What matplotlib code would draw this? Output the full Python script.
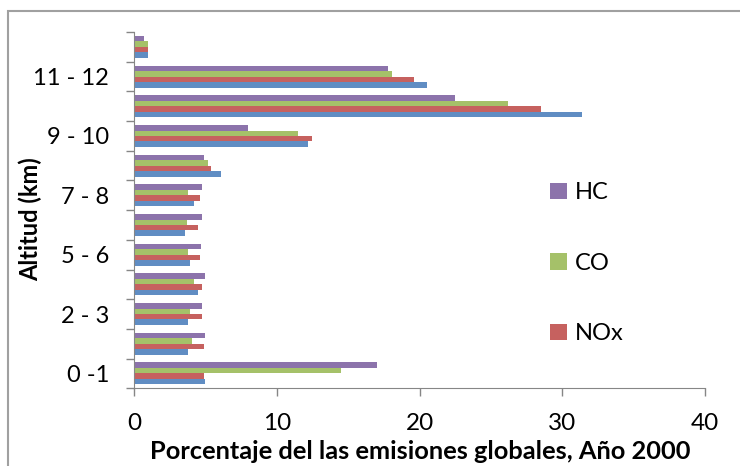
import matplotlib
matplotlib.use('Agg')
import matplotlib.pyplot as plt
from matplotlib.patches import Rectangle
import numpy as np

plt.rcParams['font.family'] = ['Lato', 'DejaVu Sans']

# altitude bands (bottom to top), only every other one gets a label in the chart
altitudes = ['0 -1', '1 - 2', '2 - 3', '3 - 4', '5 - 6', '6 - 7',
             '7 - 8', '8 - 9', '9 - 10', '10 - 11', '11 - 12', '12 - 13']

# percentage of global emissions, year 2000
fuel = [5.0, 3.8, 3.8, 4.5, 3.9, 3.6, 4.2, 6.1, 12.2, 31.4, 20.5, 1.0]
nox  = [4.9, 4.9, 4.8, 4.8, 4.6, 4.5, 4.6, 5.4, 12.5, 28.5, 19.6, 1.0]
co   = [14.5, 4.1, 3.9, 4.2, 3.8, 3.7, 3.8, 5.2, 11.5, 26.2, 18.1, 1.0]
hc   = [17.0, 5.0, 4.8, 5.0, 4.7, 4.8, 4.8, 4.9, 8.0, 22.5, 17.8, 0.7]

fig = plt.figure(figsize=(7.4, 4.66), dpi=100)
ax = fig.add_axes([0.181, 0.167, 0.772, 0.764])

# chart frame (only top and left edges are visible in the crop)
fig.add_artist(Rectangle((8/740, -0.1), 1.2, 1 - 11/466 + 0.1, transform=fig.transFigure,
                         fill=False, edgecolor='#a0a0a0', linewidth=1.5))

y = np.arange(len(altitudes))
h = 0.185
series = [(fuel, '#4f81bd', '_nolegend_'),
          (nox, '#c0504d', 'NOx'),
          (co, '#9bbb59', 'CO'),
          (hc, '#8064a2', 'HC')]
for i, (vals, col, lab) in enumerate(series):
    ax.barh(y + (i - 1.5) * h, vals, height=h, color=col, alpha=0.9, label=lab)

ax.set_xlim(0, 40)
ax.set_ylim(-0.5, len(altitudes) - 0.5)
ax.set_xticks([0, 10, 20, 30, 40])

ax.set_yticks(y)
ax.set_yticklabels([a if i % 2 == 0 else '' for i, a in enumerate(altitudes)])
ax.set_yticks(np.arange(len(altitudes) + 1) - 0.5, minor=True)
ax.tick_params(axis='y', which='major', length=0, labelsize=17, pad=18)
ax.tick_params(axis='y', which='minor', length=6, color='#868686', width=1)
ax.tick_params(axis='x', length=6, color='#868686', width=1, labelsize=17.5, pad=12)

for s in ['top', 'right']:
    ax.spines[s].set_visible(False)
for s in ['left', 'bottom']:
    ax.spines[s].set_color('#868686')

ax.set_xlabel('Porcentaje del las emisiones globales, Año 2000', fontsize=18.3,
              fontweight='bold')
ax.xaxis.set_label_coords(0.501, -0.145)
ax.set_ylabel('Altitud (km)', fontsize=17, fontweight='bold')
ax.yaxis.set_label_coords(-0.16, 0.475)

handles, labels = ax.get_legend_handles_labels()
order = [labels.index('HC'), labels.index('CO'), labels.index('NOx')]
ax.legend([handles[k] for k in order], [labels[k] for k in order],
          loc='upper left', bbox_to_anchor=(529/740, 1 - 161/466),
          bbox_transform=fig.transFigure, frameon=False, fontsize=17,
          handlelength=0.7, handleheight=0.7, handletextpad=0.35, labelspacing=2.1)

fig.savefig('out.png', dpi=100)
